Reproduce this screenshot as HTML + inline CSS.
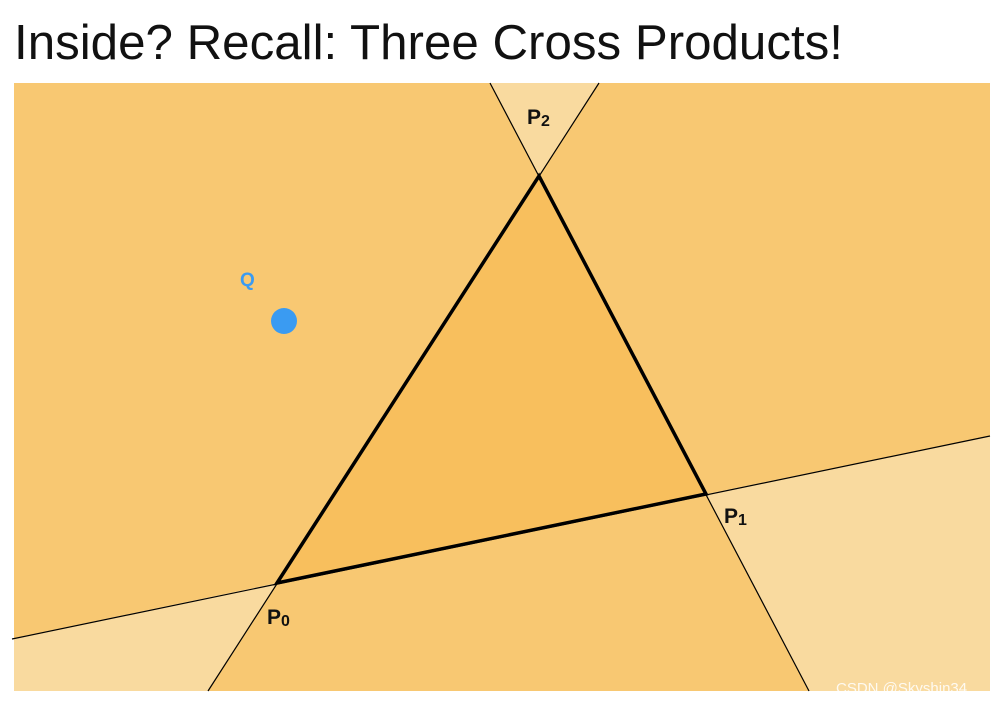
<!DOCTYPE html>
<html><head><style>
html,body{margin:0;padding:0;background:#fff;width:1002px;height:704px;overflow:hidden}
</style></head><body>
<svg width="1002" height="704" viewBox="0 0 1002 704" xmlns="http://www.w3.org/2000/svg">
<rect width="1002" height="704" fill="#fff"/>
<text x="14" y="59" font-family="Liberation Sans, sans-serif" font-size="49" textLength="829" lengthAdjust="spacingAndGlyphs" fill="#111">Inside? Recall: Three Cross Products!</text>
<rect x="14" y="83" width="976" height="608" fill="#F8C872"/>
<polygon points="490,83 599,83 539,176" fill="#F9DA9F"/>
<polygon points="14,638 277,583 208,691 14,691" fill="#F9DA9F"/>
<polygon points="706,494 990,436 990,691 809,691" fill="#F9DA9F"/>
<polygon points="277,583 706,494 539,176" fill="#F8BF5D"/>
<line x1="12" y1="639" x2="990" y2="436" stroke="#000" stroke-width="1.2"/>
<line x1="208" y1="691" x2="599" y2="83" stroke="#000" stroke-width="1.2"/>
<line x1="490" y1="83" x2="809" y2="691" stroke="#000" stroke-width="1.2"/>
<polygon points="277,583 706,494 539,176" fill="none" stroke="#000" stroke-width="3.5" stroke-linejoin="miter"/>
<g font-family="Liberation Sans, sans-serif" font-weight="bold" fill="#111">
<text x="527" y="124" font-size="21">P<tspan font-size="16" dy="2">2</tspan></text>
<text x="724" y="523" font-size="21">P<tspan font-size="16" dy="2">1</tspan></text>
<text x="267" y="624" font-size="21">P<tspan font-size="16" dy="2">0</tspan></text>
</g>
<text x="240" y="286" font-family="Liberation Sans, sans-serif" font-weight="bold" font-size="19" fill="#3A9BF2">Q</text>
<circle cx="284" cy="321" r="13" fill="#3A9BF2"/>
<text x="836" y="693" font-family="Liberation Sans, sans-serif" font-size="15" fill="#fff" fill-opacity="0.85">CSDN @Skyshin34</text>
</svg>
</body></html>
